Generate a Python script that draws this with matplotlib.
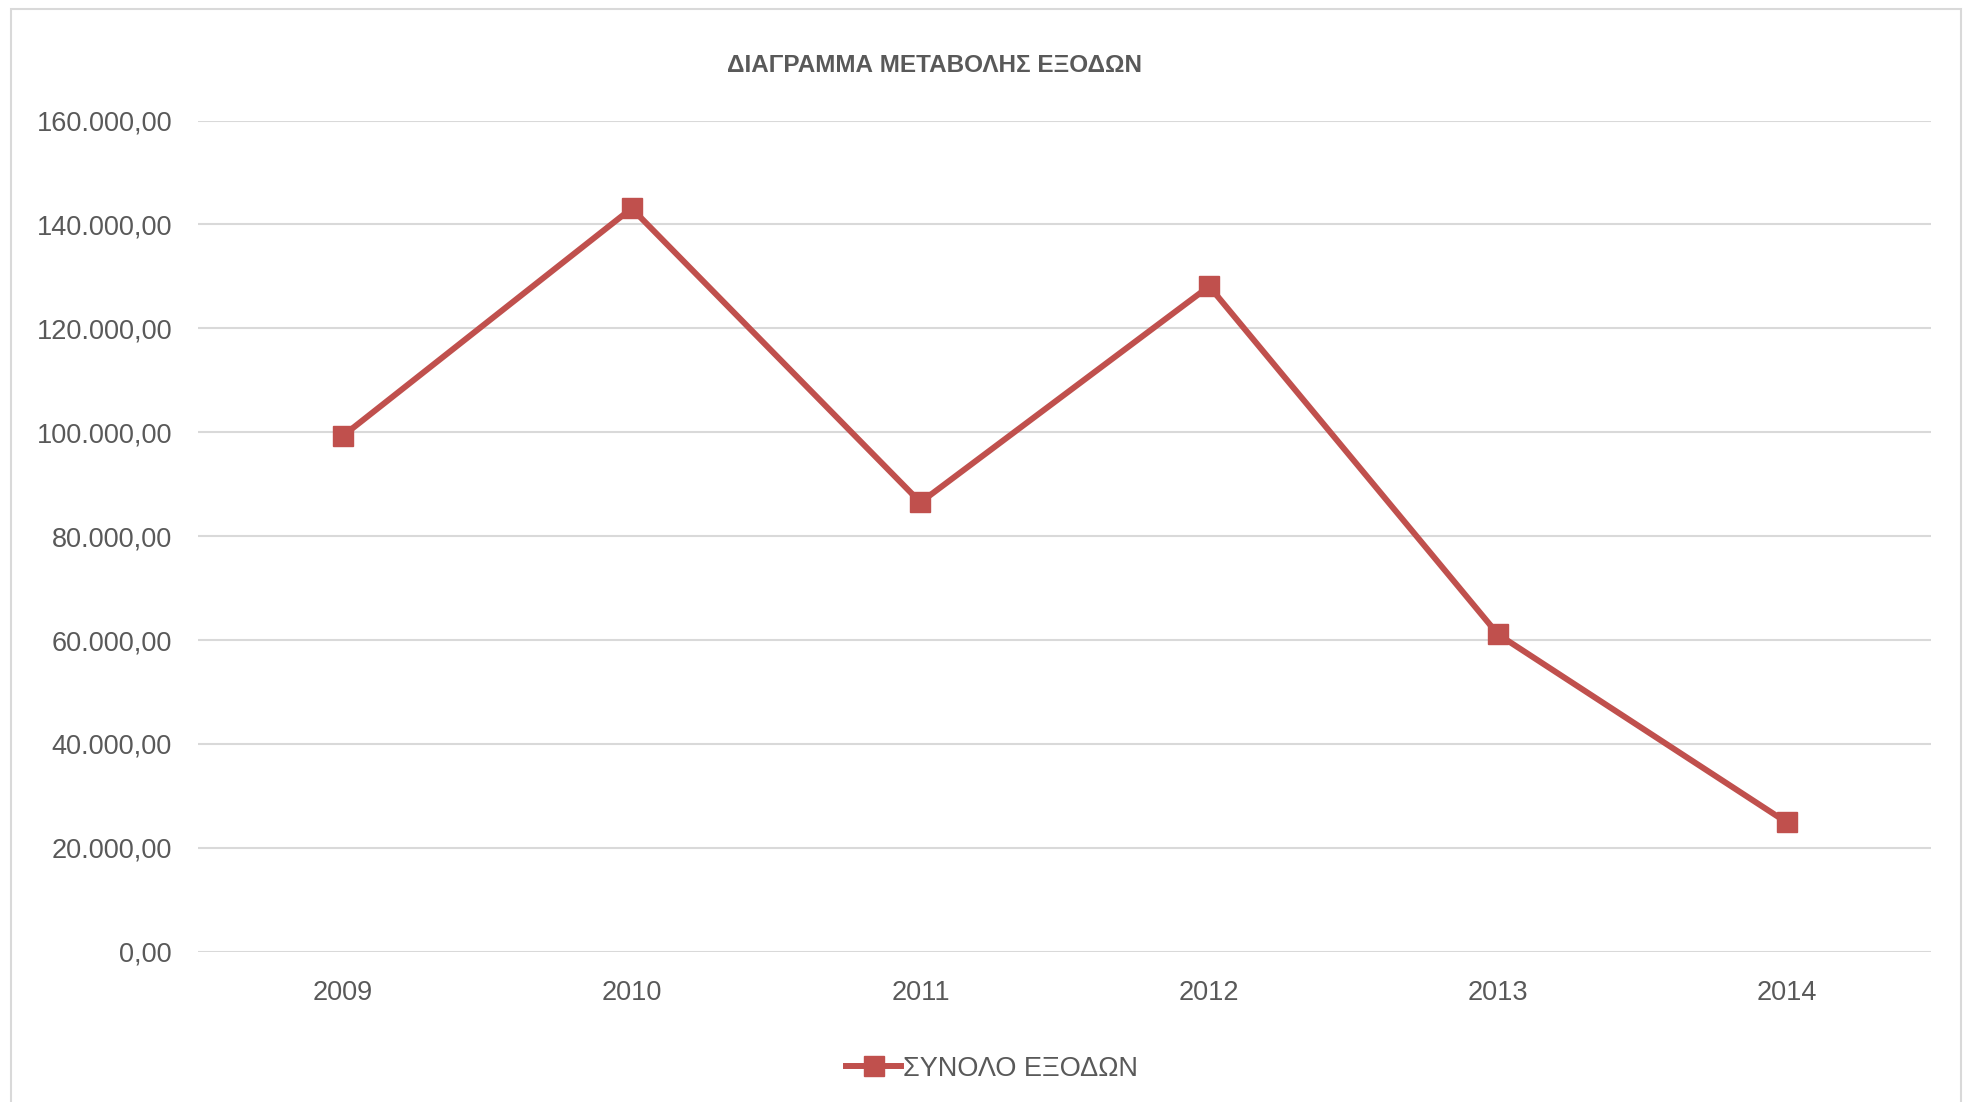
import matplotlib
matplotlib.use("Agg")
import matplotlib.pyplot as plt
from matplotlib.ticker import FuncFormatter
from matplotlib.patches import Rectangle

plt.rcParams['font.family'] = ['Liberation Sans Narrow', 'Liberation Sans', 'DejaVu Sans']

years = ['2009', '2010', '2011', '2012', '2013', '2014']
expenses = [99300, 143100, 86500, 128100, 61100, 24900]
series_name = 'ΣΥΝΟΛΟ ΕΞΟΔΩΝ'
title = 'ΔΙΑΓΡΑΜΜΑ ΜΕΤΑΒΟΛΗΣ ΕΞΟΔΩΝ'
yticks = [0, 20000, 40000, 60000, 80000, 100000, 120000, 140000, 160000]

red = '#C0504D'
grey_text = '#595959'
grid_col = '#D9D9D9'

fig = plt.figure(figsize=(19.69, 11.02), dpi=100)
ax = fig.add_axes([0.1008, 0.1363, 0.88, 0.7543])

x = list(range(len(years)))
ax.plot(x, expenses, color=red, linewidth=4.3, marker='s', markersize=14.5,
        label=series_name, solid_joinstyle='round')

ax.set_xlim(-0.5, len(years) - 0.5)
ax.set_ylim(0, 160000)
ax.set_yticks(yticks)
ax.set_xticks(x)
ax.set_xticklabels(years)


def fmt(v, pos):
    # greek style numbers: 160.000,00
    s = f"{v:,.2f}"
    return s.replace(',', 'X').replace('.', ',').replace('X', '.')


ax.yaxis.set_major_formatter(FuncFormatter(fmt))
ax.grid(axis='y', color=grid_col, linewidth=1.5)
ax.set_axisbelow(True)
for sp in ax.spines.values():
    sp.set_visible(False)
ax.tick_params(axis='both', length=0, labelsize=19.5, colors=grey_text)
ax.tick_params(axis='y', pad=19)
ax.tick_params(axis='x', pad=20)

fig.text(0.4745, 0.941, title, ha='center', va='center', fontsize=17.5,
         fontweight='bold', color=grey_text)

fig.legend(loc='center', bbox_to_anchor=(0.504, 0.030), frameon=False,
           fontsize=19.5, handlelength=2.0, handletextpad=0.1,
           labelcolor=grey_text)

# light frame around the whole chart
fig.patches.append(Rectangle((0.0056, -0.01), 0.9904, 1.002, transform=fig.transFigure,
                             fill=False, edgecolor=grid_col, linewidth=1.5))

fig.savefig('out.png', dpi=100)
